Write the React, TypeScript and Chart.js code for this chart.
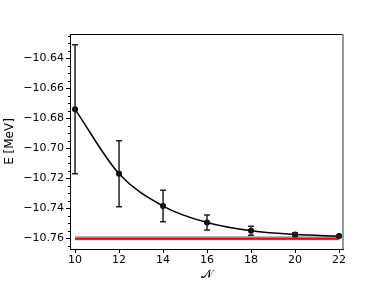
import React, { useEffect, useRef } from "react";
import { Chart, registerables } from "chart.js";

Chart.register(...registerables);

const nValues = [10, 12, 14, 16, 18, 20, 22];
const energies = [-10.674, -10.717, -10.7385, -10.7495, -10.755, -10.7575, -10.7585];
const errors = [0.043, 0.022, 0.0105, 0.005, 0.003, 0.0012, 0.0006];
const refGray = -10.7599;
const refRed = -10.7602;
const xTicks = [10, 12, 14, 16, 18, 20, 22];
const yTicks = [-10.76, -10.74, -10.72, -10.70, -10.68, -10.66, -10.64];
const yMinorStep = 0.005;

const FONT = "'DejaVu Sans', sans-serif";

const fmt = (v: number) => v.toFixed(2).replace("-", "\u2212");

const extrasPlugin = {
  id: "extras",
  afterDatasetsDraw(chart: any) {
    const { ctx, chartArea, scales } = chart;
    const xs = scales.x;
    const ys = scales.y;
    ctx.save();
    // error bars
    ctx.strokeStyle = "#222";
    ctx.lineWidth = 1.5;
    nValues.forEach((n, i) => {
      const px = xs.getPixelForValue(n);
      const top = ys.getPixelForValue(energies[i] + errors[i]);
      const bot = ys.getPixelForValue(energies[i] - errors[i]);
      ctx.beginPath();
      ctx.moveTo(px, top);
      ctx.lineTo(px, bot);
      ctx.moveTo(px - 3, top);
      ctx.lineTo(px + 3, top);
      ctx.moveTo(px - 3, bot);
      ctx.lineTo(px + 3, bot);
      ctx.stroke();
    });
    // frame
    ctx.strokeStyle = "#000";
    ctx.lineWidth = 1;
    ctx.beginPath();
    ctx.moveTo(chartArea.left, chartArea.top + 0.5);
    ctx.lineTo(chartArea.right, chartArea.top + 0.5);
    ctx.stroke();
    ctx.strokeStyle = "#999";
    ctx.lineWidth = 2;
    ctx.beginPath();
    ctx.moveTo(chartArea.right, chartArea.top);
    ctx.lineTo(chartArea.right, chartArea.bottom);
    ctx.stroke();
    // minor y ticks
    ctx.strokeStyle = "#000";
    ctx.lineWidth = 1;
    const lo = Math.ceil(ys.min / yMinorStep);
    const hi = Math.floor(ys.max / yMinorStep);
    for (let k = lo; k <= hi; k++) {
      const v = k * yMinorStep;
      const py = Math.round(ys.getPixelForValue(v)) + 0.5;
      ctx.beginPath();
      ctx.moveTo(chartArea.left, py);
      ctx.lineTo(chartArea.left - 2, py);
      ctx.stroke();
    }
    ctx.restore();
  },
};

export default function App() {
  const ref = useRef<HTMLCanvasElement>(null);
  useEffect(() => {
    document.body.style.margin = "0";
    const chart = new Chart(ref.current!, {
      type: "line",
      data: {
        datasets: [
          {
            data: [
              { x: nValues[0], y: refGray },
              { x: nValues[nValues.length - 1], y: refGray },
            ],
            borderColor: "#a0a0a0",
            borderWidth: 4,
            pointRadius: 0,
            order: 3,
          },
          {
            data: [
              { x: nValues[0], y: refRed },
              { x: nValues[nValues.length - 1], y: refRed },
            ],
            borderColor: "#ff0000",
            borderWidth: 2,
            pointRadius: 0,
            order: 2,
          },
          {
            data: nValues.map((n, i) => ({ x: n, y: energies[i] })),
            borderColor: "#000",
            backgroundColor: "#000",
            borderWidth: 1.5,
            pointRadius: 3,
            pointBorderWidth: 0,
            cubicInterpolationMode: "monotone",
            order: 1,
          },
        ],
      },
      options: {
        animation: false,
        responsive: false,
        layout: { padding: { top: 34, right: 38, left: 0, bottom: 0 } },
        plugins: { legend: { display: false }, tooltip: { enabled: false } },
        scales: {
          x: {
            type: "linear",
            min: 9.77,
            max: 22.18,
            afterBuildTicks: (s: any) => {
              s.ticks = xTicks.map((v) => ({ value: v }));
            },
            afterFit: (s: any) => {
              s.height = 37;
            },
            grid: { drawOnChartArea: false, drawTicks: true, tickLength: 4, tickColor: "#000" },
            border: { color: "#000", width: 1 },
            ticks: {
              color: "#000",
              font: { family: FONT, size: 11 },
              padding: 1,
              maxRotation: 0,
              callback: (v: any) => String(v),
            },
            title: {
              display: true,
              text: "\u{1D4A9}",
              color: "#000",
              font: { family: FONT, size: 12 },
              padding: { top: 0, bottom: 4 },
            },
          },
          y: {
            type: "linear",
            min: -10.7671,
            max: -10.6238,
            afterBuildTicks: (s: any) => {
              s.ticks = yTicks.map((v) => ({ value: v }));
            },
            afterFit: (s: any) => {
              s.width = 70;
            },
            grid: { drawOnChartArea: false, drawTicks: true, tickLength: 4, tickColor: "#000" },
            border: { color: "#000", width: 1 },
            ticks: {
              color: "#000",
              font: { family: FONT, size: 11 },
              padding: 2,
              callback: (v: any) => fmt(Number(v)),
            },
            title: {
              display: true,
              text: "E [MeV]",
              color: "#000",
              font: { family: FONT, size: 12 },
              padding: { top: 3, bottom: 0 },
            },
          },
        },
      },
      plugins: [extrasPlugin],
    });
    return () => chart.destroy();
  }, []);
  return (
    <div style={{ width: 381, height: 286 }}>
      <canvas ref={ref} width={381} height={286} style={{ width: 381, height: 286 }} />
    </div>
  );
}
